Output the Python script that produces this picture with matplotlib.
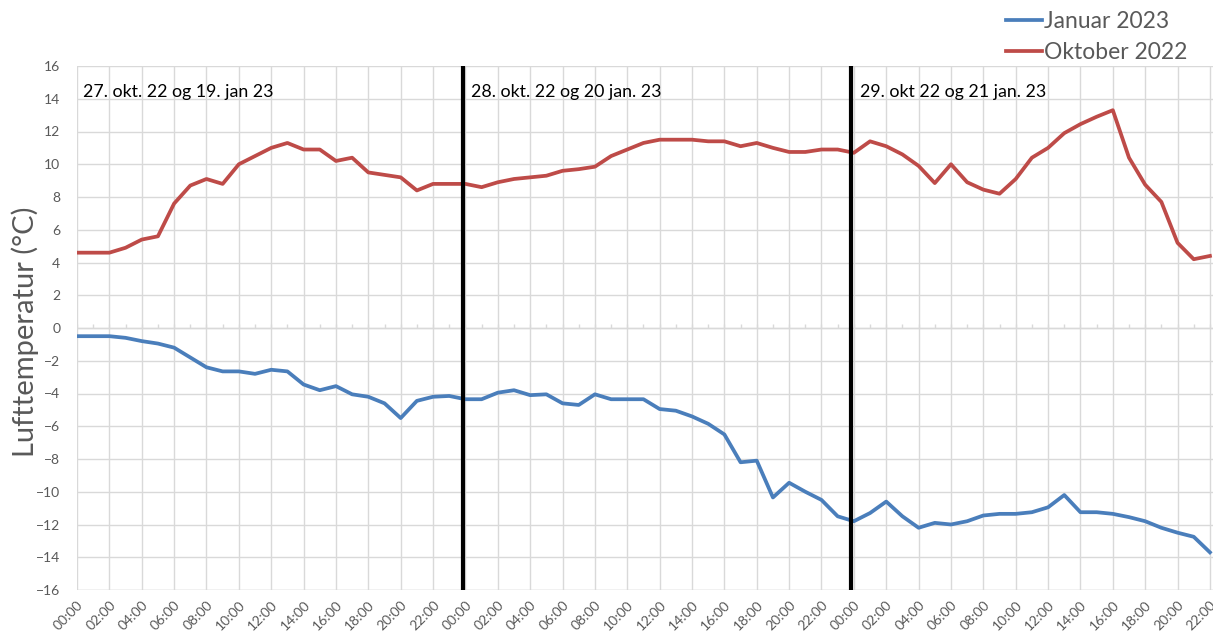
import matplotlib
matplotlib.use("Agg")
import matplotlib.pyplot as plt
import numpy as np

plt.rcParams['font.family'] = ['Lato', 'DejaVu Sans']

# hourly labels over three days
hours = [f"{h % 24:02d}:00" for h in range(71)]

oktober_2022 = [4.6, 4.6, 4.6, 4.9, 5.4, 5.6, 7.6, 8.7, 9.1, 8.8, 10.0, 10.5,
                11.0, 11.3, 10.9, 10.9, 10.2, 10.4, 9.5, 9.35, 9.2, 8.4, 8.8, 8.8,
                8.8, 8.6, 8.9, 9.1, 9.2, 9.3, 9.6, 9.7, 9.85, 10.5, 10.9, 11.3,
                11.5, 11.5, 11.5, 11.4, 11.4, 11.1, 11.3, 11.0, 10.75, 10.75, 10.9, 10.9,
                10.7, 11.4, 11.1, 10.6, 9.9, 8.85, 10.0, 8.9, 8.45, 8.2, 9.1, 10.4,
                11.0, 11.9, 12.45, 12.9, 13.3, 10.4, 8.75, 7.7, 5.2, 4.2, 4.4]

januar_2023 = [-0.5, -0.5, -0.5, -0.6, -0.8, -0.95, -1.2, -1.8, -2.4, -2.65, -2.65, -2.8,
               -2.55, -2.65, -3.45, -3.8, -3.55, -4.05, -4.2, -4.6, -5.5, -4.45, -4.2, -4.15,
               -4.35, -4.35, -3.95, -3.8, -4.1, -4.05, -4.6, -4.7, -4.05, -4.35, -4.35, -4.35,
               -4.95, -5.05, -5.4, -5.85, -6.5, -8.2, -8.1, -10.35, -9.45, -10.0, -10.5, -11.5,
               -11.8, -11.3, -10.6, -11.5, -12.2, -11.9, -12.0, -11.8, -11.45, -11.35, -11.35, -11.25,
               -10.95, -10.2, -11.25, -11.25, -11.35, -11.55, -11.8, -12.2, -12.5, -12.75, -13.7]

day_marks = [24, 48]
day_labels = ["27. okt. 22 og 19. jan 23", "28. okt. 22 og 20 jan. 23", "29. okt 22 og 21 jan. 23"]
day_starts = [0, 24, 48]

W, H = 1213, 639
fig = plt.figure(figsize=(W / 100, H / 100), dpi=100)
ax = fig.add_axes([77 / W, 1 - 590 / H, (W - 77) / W, (590 - 66) / H])

x = np.arange(len(hours))
grid_c = '#D9D9D9'
text_c = '#595959'

ax.plot(x, januar_2023, color='#4A7EBB', lw=2.7, label='Januar 2023', solid_joinstyle='round', zorder=3)
ax.plot(x, oktober_2022, color='#BE4B48', lw=2.7, label='Oktober 2022', solid_joinstyle='round', zorder=3)

ax.set_xlim(0, 70.19)
ax.set_ylim(-16, 16)
ax.set_yticks(np.arange(-16, 17, 2))
ax.set_xticks(x[::2])
ax.set_xticklabels(hours[::2], rotation=45, ha='right', rotation_mode='anchor')
ax.tick_params(axis='both', length=0, colors=text_c, labelsize=10)
ax.tick_params(axis='x', pad=6)
ax.tick_params(axis='y', pad=12)
for lab in ax.get_xticklabels() + ax.get_yticklabels():
    lab.set_color(text_c)

ax.grid(True, color=grid_c, lw=1)
ax.set_axisbelow(True)
for s in ax.spines.values():
    s.set_visible(False)
ax.axhline(-16, color=grid_c, lw=1)
ax.axhline(0, color=grid_c, lw=1, zorder=1)
# small tick marks on the zero line
ax.vlines(x, 0, 0.25, color=grid_c, lw=1, zorder=1)

for d in day_marks:
    ax.axvline(d - 0.15, color='black', lw=3, zorder=4)

for s, lab in zip(day_starts, day_labels):
    ax.text(s + 0.35, 14.4, lab, fontsize=12.8, color='black', va='center', ha='left', zorder=5)

fig.text(25 / W, 1 - 332 / H, 'Lufttemperatur (°C)', fontsize=21, color=text_c,
         rotation=90, ha='center', va='center')

fig.legend(loc='upper left', bbox_to_anchor=(1006 / W, 1 - 11 / H), frameon=False,
           fontsize=16.5, handlelength=1.55, handletextpad=0.12, labelspacing=0.42,
           labelcolor=text_c, borderaxespad=0, borderpad=0)

fig.savefig('out.png', dpi=100)
